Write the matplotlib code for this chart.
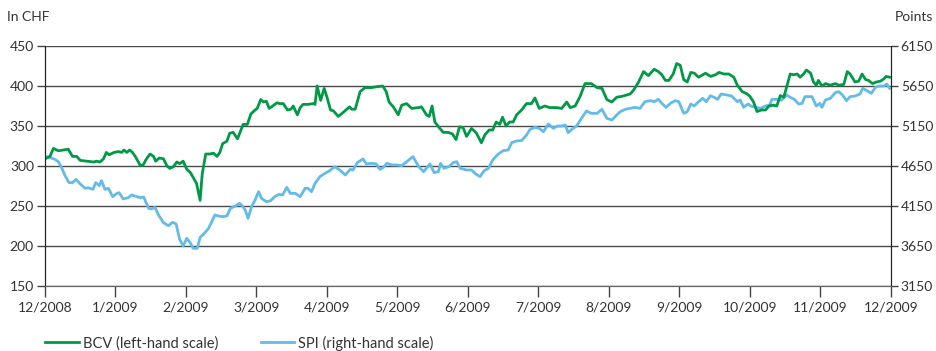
import matplotlib
matplotlib.use("Agg")
import matplotlib.pyplot as plt

# ---------------------------------------------------------------------------
# data: time in months since 1 Dec 2008, BCV share price (CHF), SPI (points)
# ---------------------------------------------------------------------------
bcv_t = [0.00, 0.07, 0.12, 0.19, 0.26, 0.33, 0.39, 0.45, 0.50, 0.59, 0.69, 0.73, 0.78, 0.83,
         0.87, 0.91, 0.98, 1.04, 1.09, 1.12, 1.16, 1.20, 1.24, 1.28, 1.35, 1.39, 1.44, 1.49,
         1.54, 1.57, 1.62, 1.68, 1.73, 1.77, 1.82, 1.87, 1.91, 1.96, 2.01, 2.06, 2.10, 2.15,
         2.20, 2.23, 2.28, 2.34, 2.39, 2.44, 2.48, 2.52, 2.58, 2.62, 2.67, 2.73, 2.78, 2.81,
         2.87, 2.92, 2.98, 3.01, 3.06, 3.10, 3.14, 3.18, 3.23, 3.29, 3.33, 3.38, 3.44, 3.49,
         3.52, 3.58, 3.62, 3.66, 3.73, 3.81, 3.83, 3.86, 3.91, 3.96, 4.00, 4.05, 4.09, 4.16,
         4.23, 4.32, 4.35, 4.40, 4.47, 4.54, 4.63, 4.70, 4.79, 4.84, 4.88, 4.94, 5.01, 5.06,
         5.13, 5.20, 5.30, 5.34, 5.41, 5.45, 5.49, 5.53, 5.60, 5.65, 5.72, 5.78, 5.83, 5.88,
         5.93, 5.98, 6.05, 6.12, 6.19, 6.24, 6.30, 6.35, 6.40, 6.45, 6.49, 6.54, 6.59, 6.64,
         6.69, 6.76, 6.83, 6.90, 6.95, 7.01, 7.09, 7.16, 7.26, 7.33, 7.40, 7.45, 7.52, 7.59,
         7.66, 7.75, 7.83, 7.90, 7.97, 8.04, 8.11, 8.18, 8.26, 8.30, 8.35, 8.42, 8.49, 8.56,
         8.64, 8.70, 8.75, 8.80, 8.85, 8.91, 8.96, 9.01, 9.06, 9.11, 9.16, 9.21, 9.27, 9.37,
         9.44, 9.51, 9.56, 9.63, 9.70, 9.77, 9.82, 9.89, 9.96, 10.00, 10.05, 10.10, 10.16,
         10.22, 10.27, 10.33, 10.38, 10.43, 10.48, 10.52, 10.57, 10.62, 10.67, 10.71, 10.76,
         10.80, 10.86, 10.90, 10.94, 10.97, 11.02, 11.07, 11.14, 11.21, 11.26, 11.33, 11.38,
         11.42, 11.49, 11.54, 11.59, 11.64, 11.68, 11.74, 11.79, 11.85, 11.90, 11.93, 11.98]
bcv = [309, 312, 322, 319, 320, 321, 312, 312, 307, 306, 305, 306, 305, 309,
       317, 314, 317, 318, 317, 320, 317, 320, 317, 312, 301, 301, 309, 315,
       312, 306, 310, 309, 300, 297, 299, 305, 303, 306, 296, 292, 286, 278,
       257, 290, 315, 315, 316, 312, 317, 328, 331, 341, 342, 334, 345, 352,
       352, 365, 370, 372, 383, 380, 381, 372, 375, 379, 378, 378, 370, 371,
       375, 364, 373, 377, 377, 378, 377, 400, 382, 397, 386, 370, 369, 362,
       367, 374, 371, 371, 393, 398, 398, 399, 400, 393, 380, 374, 364, 376,
       378, 372, 373, 374, 364, 362, 375, 355, 347, 342, 342, 340, 333, 349,
       348, 337, 347, 341, 329, 339, 345, 345, 355, 352, 361, 350, 355, 355,
       364, 370, 378, 378, 385, 372, 375, 373, 373, 372, 380, 373, 375, 387,
       403, 403, 398, 397, 383, 380, 386, 387, 389, 390, 395, 405, 418, 413,
       421, 418, 414, 407, 407, 415, 428, 426, 408, 405, 417, 416, 411, 416,
       412, 414, 417, 415, 415, 411, 401, 393, 390, 387, 380, 368, 370,
       370, 375, 376, 375, 388, 386, 399, 415, 414, 415, 411, 415,
       420, 416, 405, 401, 407, 400, 403, 401, 403, 401, 402, 418,
       415, 405, 406, 415, 408, 407, 403, 405, 406, 409, 412, 411]

spi_t = [0.00, 0.07, 0.14, 0.19, 0.24, 0.28, 0.34, 0.39, 0.44, 0.50, 0.57, 0.61, 0.68, 0.72,
         0.77, 0.80, 0.85, 0.90, 0.96, 1.02, 1.05, 1.11, 1.18, 1.23, 1.30, 1.35, 1.40, 1.47,
         1.51, 1.56, 1.61, 1.68, 1.75, 1.81, 1.86, 1.91, 1.96, 2.01, 2.06, 2.10, 2.16, 2.20,
         2.26, 2.32, 2.36, 2.41, 2.46, 2.52, 2.58, 2.63, 2.70, 2.76, 2.80, 2.84, 2.88, 2.93,
         2.98, 3.03, 3.07, 3.14, 3.20, 3.26, 3.32, 3.37, 3.43, 3.48, 3.55, 3.62, 3.69, 3.73,
         3.78, 3.83, 3.90, 3.97, 4.04, 4.11, 4.18, 4.26, 4.33, 4.37, 4.43, 4.51, 4.56, 4.63,
         4.70, 4.75, 4.80, 4.85, 4.92, 4.99, 5.06, 5.13, 5.22, 5.30, 5.37, 5.46, 5.52, 5.58,
         5.61, 5.66, 5.73, 5.79, 5.84, 5.89, 5.98, 6.05, 6.11, 6.17, 6.23, 6.29, 6.35, 6.43,
         6.50, 6.57, 6.62, 6.69, 6.76, 6.83, 6.88, 6.95, 7.01, 7.07, 7.14, 7.21, 7.27, 7.33,
         7.38, 7.42, 7.49, 7.54, 7.61, 7.68, 7.75, 7.83, 7.90, 7.97, 8.04, 8.11, 8.16, 8.23,
         8.30, 8.37, 8.44, 8.51, 8.59, 8.64, 8.70, 8.75, 8.81, 8.87, 8.94, 8.99, 9.06, 9.11,
         9.16, 9.21, 9.27, 9.33, 9.38, 9.44, 9.49, 9.54, 9.59, 9.67, 9.74, 9.82, 9.86, 9.91,
         9.97, 10.01, 10.08, 10.15, 10.22, 10.28, 10.31, 10.38, 10.45, 10.52, 10.57, 10.63,
         10.69, 10.74, 10.78, 10.85, 10.88, 10.94, 10.99, 11.02, 11.07, 11.14, 11.21, 11.26,
         11.31, 11.37, 11.42, 11.49, 11.56, 11.60, 11.66, 11.72, 11.78, 11.83, 11.90, 11.94, 11.98]
spi = [4767, 4758, 4733, 4704, 4621, 4538, 4442, 4442, 4483, 4425, 4371, 4379, 4358, 4442,
       4404, 4467, 4358, 4371, 4267, 4308, 4317, 4238, 4254, 4288, 4267, 4254, 4262, 4121,
       4113, 4133, 4038, 3942, 3904, 3946, 3925, 3733, 3650, 3746, 3692, 3621, 3621, 3758,
       3808, 3871, 3942, 4038, 4025, 4017, 4025, 4121, 4150, 4183, 4150, 4100, 3996, 4142,
       4225, 4329, 4246, 4204, 4217, 4267, 4296, 4288, 4383, 4308, 4308, 4267, 4371, 4371,
       4329, 4433, 4517, 4558, 4592, 4642, 4600, 4538, 4608, 4600, 4692, 4738, 4675, 4683,
       4675, 4608, 4633, 4683, 4663, 4663, 4654, 4704, 4767, 4642, 4579, 4675, 4567, 4579,
       4683, 4621, 4642, 4692, 4704, 4621, 4600, 4600, 4550, 4517, 4592, 4621, 4725, 4800,
       4842, 4850, 4942, 4963, 4967, 5037, 5108, 5133, 5121, 5079, 5175, 5121, 5150, 5150,
       5163, 5067, 5121, 5150, 5246, 5338, 5308, 5308, 5358, 5246, 5225, 5288, 5329, 5358,
       5371, 5383, 5371, 5454, 5467, 5454, 5483, 5433, 5383, 5433, 5467, 5454, 5308, 5329,
       5425, 5400, 5454, 5496, 5454, 5529, 5508, 5483, 5550, 5538, 5525, 5454, 5475, 5383,
       5425, 5400, 5383, 5371, 5400, 5413, 5483, 5483, 5475, 5538, 5508, 5483,
       5425, 5433, 5517, 5517, 5517, 5400, 5433, 5383, 5475, 5496, 5567, 5579,
       5538, 5467, 5517, 5525, 5550, 5621, 5592, 5558, 5633, 5650, 5650, 5675, 5621]

month_labels = ["12/2008", "1/2009", "2/2009", "3/2009", "4/2009", "5/2009", "6/2009",
                "7/2009", "8/2009", "9/2009", "10/2009", "11/2009", "12/2009"]
left_ticks = [150, 200, 250, 300, 350, 400, 450]
right_ticks = [3150, 3650, 4150, 4650, 5150, 5650, 6150]

GREEN = "#009a46"
BLUE = "#62bbe9"
TXT = "#333333"

plt.rcParams["font.family"] = ["Lato", "DejaVu Sans"]
plt.rcParams["font.size"] = 9.5

fig = plt.figure(figsize=(9.37, 3.51), dpi=100)
ax = fig.add_axes([45 / 937, 1 - 286 / 351, 846 / 937, 240 / 351])
ax2 = ax.twinx()

# grid on the lower (right) axes so the BCV line sits on top
ax2.set_ylim(3150, 6150)
ax2.set_yticks(right_ticks)
ax2.yaxis.grid(True, color="#4a4a4a", linewidth=1.0)
ax2.plot(spi_t, spi, color=BLUE, linewidth=2.0, solid_joinstyle="round")

ax.set_zorder(ax2.get_zorder() + 1)
ax.patch.set_visible(False)
ax.plot(bcv_t, bcv, color=GREEN, linewidth=2.0, solid_joinstyle="round",
        label="BCV (left-hand scale)")
ax.plot([], [], color=BLUE, linewidth=2.0, label="SPI (right-hand scale)")
ax.set_ylim(150, 450)
ax.set_yticks(left_ticks)
ax.set_xlim(0, 12)
ax.set_xticks(range(len(month_labels)))
ax.set_xticklabels(month_labels)

for a in (ax, ax2):
    a.spines["top"].set_visible(False)
    a.spines["left"].set_color("#222222")
    a.spines["right"].set_color("#222222")
    a.spines["bottom"].set_color("#666666")
    a.tick_params(colors=TXT, labelsize=10)
ax.tick_params(axis="y", length=6, width=1, color="#444444", pad=2)
ax2.tick_params(axis="y", length=5, width=1, color="#444444", pad=2)
ax.tick_params(axis="x", length=8, width=1, color="#444444", pad=3)

fig.text(7 / 937, 1 - 17 / 351, "In CHF", color=TXT, fontsize=10, va="center", ha="left")
fig.text(895 / 937, 1 - 17 / 351, "Points", color=TXT, fontsize=10, va="center", ha="left")

fig.legend(loc="center left", bbox_to_anchor=(45 / 937, 1 - 343 / 351), ncol=2,
           frameon=False, borderpad=0, borderaxespad=0, handlelength=2.3,
           handletextpad=0.3, columnspacing=2.9, fontsize=10.5, labelcolor=TXT)

fig.savefig("out.png", dpi=100)
